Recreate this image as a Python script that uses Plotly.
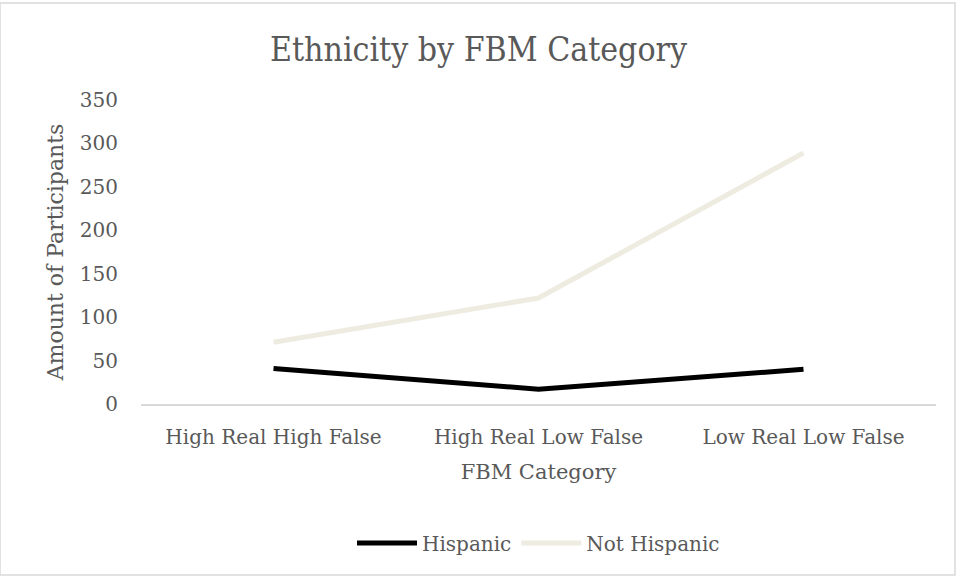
import plotly.graph_objects as go

categories = ["High Real High False", "High Real Low False", "Low Real Low False"]
hispanic = [41, 17, 40]
not_hispanic = [71, 122, 289]
y_ticks = [0, 50, 100, 150, 200, 250, 300, 350]

FONT = "DejaVu Serif"
fig = go.Figure()
fig.add_trace(go.Scatter(x=categories, y=hispanic, mode="lines", name="Hispanic",
                         line=dict(color="#000000", width=5)))
fig.add_trace(go.Scatter(x=categories, y=not_hispanic, mode="lines", name="Not Hispanic",
                         line=dict(color="#EEECE1", width=5)))

fig.update_layout(
    width=957, height=577,
    margin=dict(l=141, r=21, t=100, b=173),
    paper_bgcolor="white", plot_bgcolor="white",
    font=dict(family=FONT, color="#595959", size=20),
    title=dict(text="Ethnicity by FBM Category", x=0.5, xanchor="center",
               y=0.915, yanchor="middle",
               font=dict(size=33.5, color="#595959", family="DejaVu Serif Condensed")),
    xaxis=dict(type="category", range=[-0.5, 2.5], showgrid=False,
               showline=True, linecolor="#D9D9D9", linewidth=1.5, ticks="",
               ticklabelstandoff=14,
               title=dict(text="FBM Category", font=dict(size=21), standoff=17),
               tickfont=dict(size=20)),
    yaxis=dict(range=[0, 350], tickvals=y_ticks, showgrid=False, zeroline=False,
               showline=False, ticks="", ticklabelstandoff=22,
               title=dict(text="Amount of Participants", font=dict(size=22), standoff=10),
               tickfont=dict(size=20)),
    legend=dict(orientation="h", x=0.5, xanchor="center", y=-0.457, yanchor="middle",
                font=dict(size=20), itemwidth=60),
    showlegend=True,
)
fig.add_shape(type="rect", xref="paper", yref="paper",
              x0=-141/795, x1=1 + 19/795, y0=-171/304, y1=1 + 97/304,
              line=dict(color="#D9D9D9", width=1.5))
fig.write_html("out.html")
